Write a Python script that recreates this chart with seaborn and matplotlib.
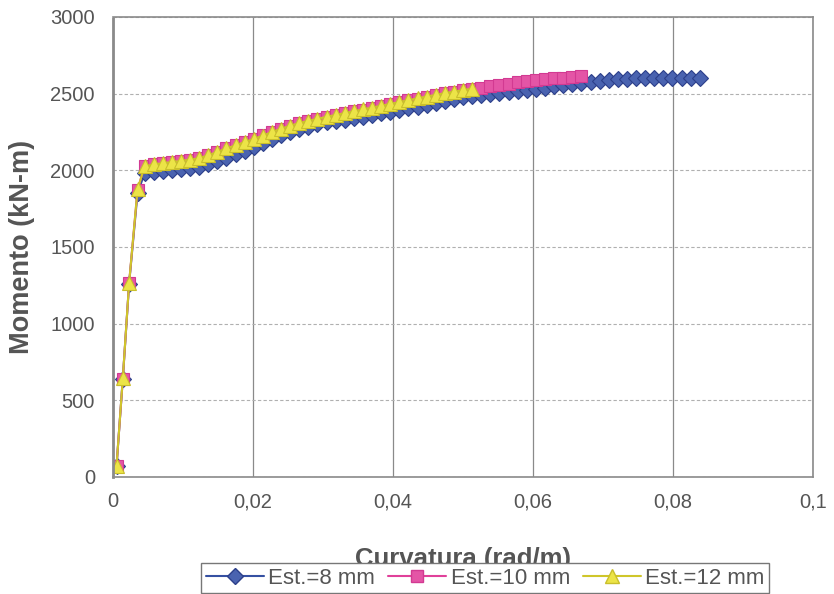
import numpy as np
import pandas as pd
import matplotlib
matplotlib.use('Agg')
import matplotlib.pyplot as plt
import seaborn as sns

# curvatura (rad/m), compartida por las tres series
curvatura = [0.0005, 0.0014, 0.0023, 0.0035, 0.0045, 0.0058, 0.0071, 0.0084, 0.0097, 0.0110,
             0.0123, 0.0136, 0.0149, 0.0162, 0.0175, 0.0188, 0.0201, 0.0214, 0.0227, 0.0240,
             0.0253, 0.0266, 0.0279, 0.0292, 0.0305, 0.0318, 0.0331, 0.0344, 0.0357, 0.0370,
             0.0383, 0.0396, 0.0409, 0.0422, 0.0435, 0.0448, 0.0461, 0.0474, 0.0487, 0.0500,
             0.0513, 0.0526, 0.0539, 0.0552, 0.0565, 0.0578, 0.0591, 0.0604, 0.0617, 0.0630,
             0.0643, 0.0656, 0.0669, 0.0682, 0.0695, 0.0708, 0.0721, 0.0734, 0.0747, 0.0760,
             0.0773, 0.0786, 0.0799, 0.0812, 0.0825, 0.0838]

# momento (kN-m)
mom_8mm = [70, 640, 1260, 1850, 1980, 1988, 1994, 2002, 2008, 2014,
           2022, 2040, 2062, 2083, 2105, 2128, 2152, 2180, 2205, 2230,
           2253, 2270, 2285, 2300, 2313, 2322, 2331, 2340, 2350, 2360,
           2371, 2382, 2393, 2404, 2416, 2428, 2440, 2452, 2464, 2475,
           2483, 2491, 2498, 2506, 2513, 2519, 2525, 2532, 2540, 2548,
           2555, 2563, 2570, 2578, 2584, 2590, 2595, 2597, 2599, 2600,
           2601, 2602, 2603, 2604, 2604, 2605]

mom_10mm = [70, 640, 1265, 1870, 2030, 2040, 2048, 2055, 2062, 2070,
            2080, 2100, 2122, 2145, 2165, 2185, 2205, 2228, 2250, 2272,
            2292, 2308, 2322, 2336, 2348, 2360, 2372, 2384, 2396, 2408,
            2420, 2432, 2444, 2456, 2468, 2480, 2491, 2502, 2512, 2522,
            2531, 2540, 2550, 2558, 2566, 2574, 2582, 2590, 2595, 2600,
            2605, 2610, 2614]

mom_12mm = [70, 645, 1265, 1875, 2025, 2038, 2046, 2054, 2061, 2069,
            2079, 2098, 2120, 2143, 2163, 2184, 2204, 2227, 2249, 2271,
            2291, 2308, 2322, 2336, 2349, 2361, 2373, 2385, 2397, 2409,
            2421, 2433, 2445, 2457, 2469, 2481, 2492, 2503, 2513, 2523,
            2532]

series = ['Est.=8 mm', 'Est.=10 mm', 'Est.=12 mm']
momentos = [mom_8mm, mom_10mm, mom_12mm]

x_ticks = [0, 0.02, 0.04, 0.06, 0.08, 0.1]
x_labels = ['0', '0,02', '0,04', '0,06', '0,08', '0,1']
y_ticks = [0, 500, 1000, 1500, 2000, 2500, 3000]

rows = []
for nombre, mom in zip(series, momentos):
    for c, m in zip(curvatura, mom):
        rows.append({'serie': nombre, 'curvatura': c, 'momento': m})
df = pd.DataFrame(rows)

sns.set_style('white')
plt.rcParams['font.family'] = ['Liberation Sans', 'DejaVu Sans']

fig = plt.figure(figsize=(8.34, 5.94), dpi=100)
ax = fig.add_axes([0.1355, 0.197, 0.8395, 0.7744])

estilos = {
    'Est.=8 mm': dict(color='#3550a2', marker='D', markersize=8.5, mfc='#4a63b0', mec='#2c3f8a'),
    'Est.=10 mm': dict(color='#e0409a', marker='s', markersize=8.5, mfc='#e455a6', mec='#d23a92'),
    'Est.=12 mm': dict(color='#cfc62a', marker='^', markersize=10, mfc='#ece447', mec='#c9bf2c'),
}

for nombre in series:
    sub = df[df['serie'] == nombre]
    st = estilos[nombre]
    sns.lineplot(data=sub, x='curvatura', y='momento', ax=ax, sort=False,
                 color=st['color'], marker=st['marker'], markersize=st['markersize'],
                 markerfacecolor=st['mfc'], markeredgecolor=st['mec'], markeredgewidth=0.8,
                 linewidth=1.5, label=nombre, legend=False)

ax.set_xlim(0, 0.1)
ax.set_ylim(0, 3000)
ax.set_xticks(x_ticks)
ax.set_xticklabels(x_labels)
ax.set_yticks(y_ticks)
ax.tick_params(axis='both', labelsize=14.5, colors='#555555', length=0)
ax.tick_params(axis='x', pad=11)
ax.tick_params(axis='y', pad=13)
ax.xaxis.grid(True, color='#8a8a8a', linewidth=0.9)
ax.yaxis.grid(True, color='#b0b0b0', linewidth=0.8, linestyle=(0, (3, 2)))
ax.set_axisbelow(True)
for s in ax.spines.values():
    s.set_color('#8a8a8a')
    s.set_linewidth(1.2)
ax.spines['left'].set_linestyle((0, (1, 1)))
ax.spines['left'].set_linewidth(2)

ax.set_xlabel('Curvatura (rad/m)', fontsize=18.5, fontweight='bold', color='#555555')
ax.set_ylabel('Momento (kN-m)', fontsize=19.5, fontweight='bold', color='#555555')
ax.xaxis.set_label_coords(0.5, -0.178)
ax.xaxis.label.set_va('center')
ax.yaxis.set_label_coords(-0.13, 0.5)
ax.yaxis.label.set_va('center')

handles = [plt.Line2D([], [], color=estilos[n]['color'], marker=estilos[n]['marker'],
                      markersize=estilos[n]['markersize'], markerfacecolor=estilos[n]['mfc'],
                      markeredgecolor=estilos[n]['mec'], linewidth=1.5) for n in series]
leg = fig.legend(handles, series, loc='upper center', bbox_to_anchor=(0.582, 0.052),
                 ncol=3, fontsize=16, frameon=True, fancybox=False, handlelength=2.6,
                 handletextpad=0.2, columnspacing=0.6, borderpad=0.2, borderaxespad=0)
leg.get_frame().set_edgecolor('#777777')
leg.get_frame().set_linewidth(1.0)
leg.get_frame().set_facecolor('white')
leg.get_frame().set_alpha(1)
leg.set_zorder(10)
for t in leg.get_texts():
    t.set_color('#555555')

fig.savefig('out.png', dpi=100)
